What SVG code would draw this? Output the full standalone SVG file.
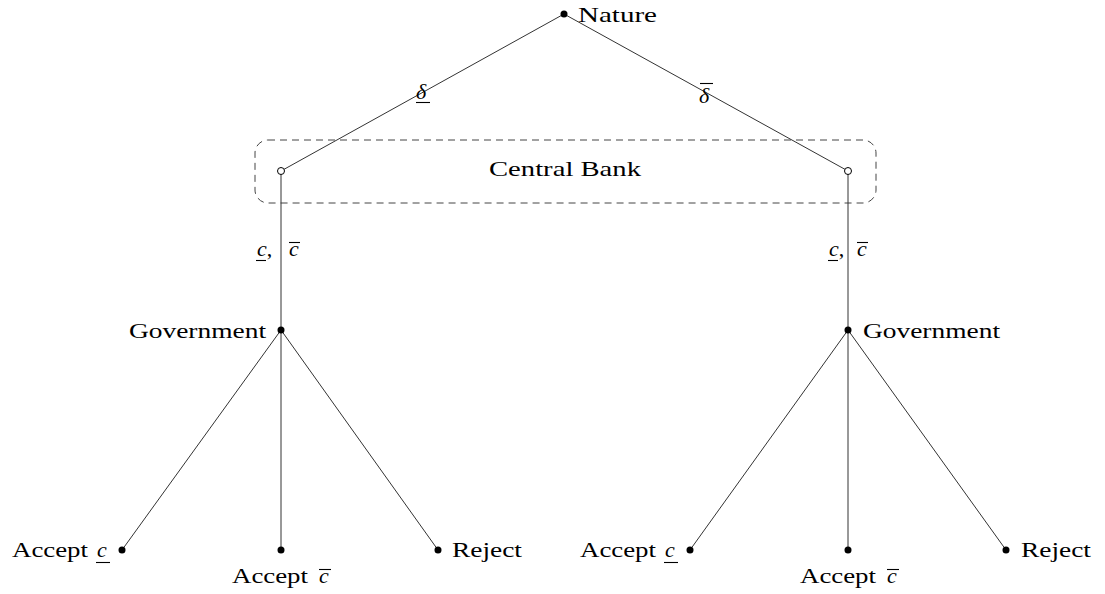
<svg xmlns="http://www.w3.org/2000/svg" width="1105" height="594" viewBox="0 0 1105 594">
<style>
text{font-family:"Liberation Serif","DejaVu Serif",serif;font-size:22px;fill:#000}
.m{font-style:italic}
.e{stroke:#333;stroke-width:1;fill:none}
.bar{stroke:#000;stroke-width:1.1}
.dot{fill:#000}
.open{fill:#fff;stroke:#000;stroke-width:1}
</style>
<rect width="1105" height="594" fill="#fff"/>
<g id="infoset">
<rect x="255" y="140" width="621" height="63" rx="13" fill="none" stroke="#444" stroke-width="1" stroke-dasharray="7,5"/>
<text x="489" y="176" textLength="152" lengthAdjust="spacingAndGlyphs">Central Bank</text>
</g>
<g id="connectors">
<line class="e" x1="564" y1="14" x2="281" y2="171"/>
<line class="e" x1="564" y1="14" x2="848" y2="171"/>
<line class="e" x1="281" y1="171" x2="281" y2="330"/>
<line class="e" x1="848" y1="171" x2="848" y2="330"/>
<line class="e" x1="281" y1="330" x2="122" y2="550"/>
<line class="e" x1="281" y1="330" x2="281" y2="550"/>
<line class="e" x1="281" y1="330" x2="438" y2="550"/>
<line class="e" x1="848" y1="330" x2="690" y2="550"/>
<line class="e" x1="848" y1="330" x2="848" y2="550"/>
<line class="e" x1="848" y1="330" x2="1006" y2="550"/>
<text class="m" x="416" y="99">δ</text>
<line class="bar" x1="416" y1="102.5" x2="430" y2="102.5"/>
<text class="m" x="699" y="103">δ</text>
<line class="bar" x1="700" y1="83.5" x2="713" y2="83.5"/>
<text x="257" y="256"><tspan class="m">c</tspan>,</text>
<text class="m" x="289" y="256">c</text>
<line class="bar" x1="256" y1="260.5" x2="266" y2="260.5"/>
<line class="bar" x1="289" y1="242.5" x2="300" y2="242.5"/>
<text x="829" y="256"><tspan class="m">c</tspan>,</text>
<text class="m" x="857" y="256">c</text>
<line class="bar" x1="828" y1="260.5" x2="838" y2="260.5"/>
<line class="bar" x1="857" y1="242.5" x2="868" y2="242.5"/>
</g>
<g id="nature">
<circle class="dot" cx="564" cy="14" r="3.5"/>
<text x="578" y="22" textLength="79" lengthAdjust="spacingAndGlyphs">Nature</text>
</g>
<g id="cb-left"><circle class="open" cx="281" cy="171" r="3.5"/></g>
<g id="cb-right"><circle class="open" cx="848" cy="171" r="3.5"/></g>
<g id="gov-left">
<circle class="dot" cx="281" cy="330" r="3.5"/>
<text x="129" y="338" textLength="137" lengthAdjust="spacingAndGlyphs">Government</text>
</g>
<g id="gov-right">
<circle class="dot" cx="848" cy="330" r="3.5"/>
<text x="863" y="338" textLength="137" lengthAdjust="spacingAndGlyphs">Government</text>
</g>
<g id="leaf-l1">
<circle class="dot" cx="122" cy="550" r="3.5"/>
<text x="12" y="557"><tspan textLength="76" lengthAdjust="spacingAndGlyphs">Accept</tspan><tspan class="m" x="97">c</tspan></text>
<line class="bar" x1="96" y1="562.5" x2="110" y2="562.5"/>
</g>
<g id="leaf-l2">
<circle class="dot" cx="281" cy="550" r="3.5"/>
<text x="232" y="583"><tspan textLength="76" lengthAdjust="spacingAndGlyphs">Accept</tspan><tspan class="m" x="319">c</tspan></text>
<line class="bar" x1="319" y1="569.5" x2="331" y2="569.5"/>
</g>
<g id="leaf-l3">
<circle class="dot" cx="438" cy="550" r="3.5"/>
<text x="452" y="557" textLength="70" lengthAdjust="spacingAndGlyphs">Reject</text>
</g>
<g id="leaf-r1">
<circle class="dot" cx="690" cy="550" r="3.5"/>
<text x="580" y="557"><tspan textLength="76" lengthAdjust="spacingAndGlyphs">Accept</tspan><tspan class="m" x="665">c</tspan></text>
<line class="bar" x1="664" y1="562.5" x2="678" y2="562.5"/>
</g>
<g id="leaf-r2">
<circle class="dot" cx="848" cy="550" r="3.5"/>
<text x="800" y="583"><tspan textLength="76" lengthAdjust="spacingAndGlyphs">Accept</tspan><tspan class="m" x="887">c</tspan></text>
<line class="bar" x1="887" y1="569.5" x2="899" y2="569.5"/>
</g>
<g id="leaf-r3">
<circle class="dot" cx="1006" cy="550" r="3.5"/>
<text x="1021" y="557" textLength="70" lengthAdjust="spacingAndGlyphs">Reject</text>
</g>
</svg>
